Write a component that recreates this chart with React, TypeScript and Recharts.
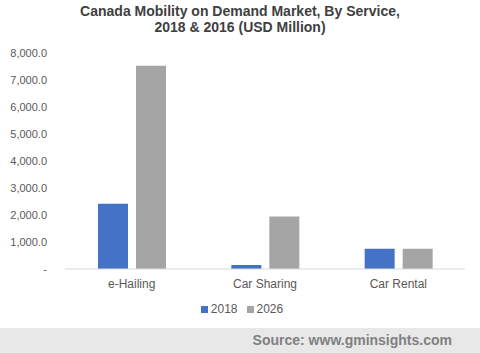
import React from 'react';
import { BarChart, Bar, XAxis, YAxis, Legend } from 'recharts';

const categories = ['e-Hailing', 'Car Sharing', 'Car Rental'];
const values2018 = [2420, 150, 750];
const values2026 = [7530, 1940, 750];
const yTicks = [0, 1000, 2000, 3000, 4000, 5000, 6000, 7000, 8000];

const data = categories.map((name, i) => ({ name, y2018: values2018[i], y2026: values2026[i] }));

const fmt = (v: number) => (v === 0 ? '-' : v.toLocaleString('en-US', { minimumFractionDigits: 1, maximumFractionDigits: 1 }));

const font = 'Liberation Sans, Arial, sans-serif';

const LegendContent = (props: any) => {
  const payload = props.payload || [];
  return (
    <div style={{ width: 480, display: 'flex', justifyContent: 'center', alignItems: 'center', fontSize: 12, fontFamily: font, color: '#595959', paddingLeft: 2 }}>
      {payload.map((p: any, i: number) => (
        <span key={i} style={{ display: 'inline-flex', alignItems: 'center', marginRight: i === payload.length - 1 ? 0 : 9 }}>
          <span style={{ display: 'inline-block', width: 7, height: 7, background: p.color, marginRight: 3 }} />
          {p.value}
        </span>
      ))}
    </div>
  );
};

export default function App() {
  return (
    <div style={{ position: 'absolute', left: 0, top: 0, width: 480, height: 353, background: '#fff', fontFamily: font, overflow: 'hidden' }}>
      <div style={{ position: 'absolute', top: 3, left: 0, width: 480, textAlign: 'center', fontWeight: 'bold', fontSize: 14, lineHeight: '16px', color: '#404040' }}>
        Canada Mobility on Demand Market, By Service,<br />2018 &amp; 2016 (USD Million)
      </div>
      <BarChart width={480} height={328} data={data} margin={{ top: 53, right: 15, left: 0, bottom: 0 }} barGap={8} barSize={30} style={{ position: 'absolute', top: 0, left: 0 }}>
        <XAxis dataKey="name" axisLine={{ stroke: '#D9D9D9' }} tickLine={false} tick={{ fill: '#595959', fontSize: 12, fontFamily: font }} height={33} tickMargin={4} />
        <YAxis domain={[0, 8000]} ticks={yTicks} tickFormatter={fmt} axisLine={false} tickLine={false} width={65} tick={{ fill: '#595959', fontSize: 11, fontFamily: font }} tickMargin={12} interval={0} />
        <Legend verticalAlign="bottom" height={26} content={LegendContent} wrapperStyle={{ left: 0, width: 480 }} />
        <Bar dataKey="y2018" name="2018" fill="#4472C4" isAnimationActive={false} />
        <Bar dataKey="y2026" name="2026" fill="#A5A5A5" isAnimationActive={false} />
      </BarChart>
      <div style={{ position: 'absolute', top: 328, left: 0, width: 480, height: 25, background: '#E8E8E8' }}>
        <div style={{ position: 'absolute', right: 28, top: 4, fontWeight: 'bold', fontSize: 14, color: '#808080' }}>Source: www.gminsights.com</div>
      </div>
    </div>
  );
}
